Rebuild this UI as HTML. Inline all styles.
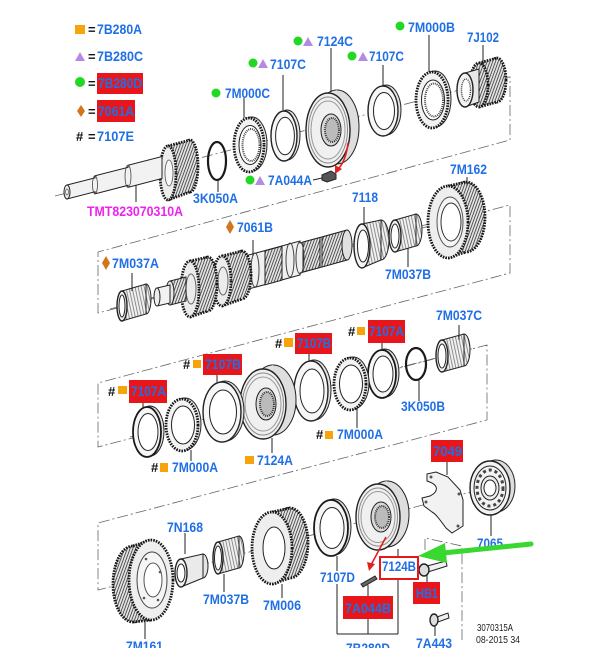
<!DOCTYPE html>
<html><head><meta charset="utf-8"><style>
html,body{margin:0;padding:0;background:#fff;}
svg{display:block}
.t{font-family:"Liberation Sans",Arial,sans-serif;font-weight:bold;font-size:13.5px;fill:#1f6fe6}
.m{fill:#ee22ee}
.k{font-family:"Liberation Sans",Arial,sans-serif;font-weight:bold;font-size:13px;fill:#111}
.s{font-family:"Liberation Sans",Arial,sans-serif;font-size:10px;fill:#222}
.ax{stroke:#666;stroke-width:0.8;fill:none;stroke-dasharray:11 3 2 3}
.ld{stroke:#222;stroke-width:1;fill:none}
.o{stroke:#222;stroke-width:1}
.o2{stroke:#222;stroke-width:1.4}
.th{stroke:#161616;stroke-width:2.8;stroke-dasharray:1.6 1.1}
.rb{fill:#e8161a}
.g{fill:#22d822}
.p{fill:#b48ae6}
.y{fill:#f7a40c}
.d{fill:#d2761e}
</style></head><body>
<svg width="600" height="648" viewBox="0 0 600 648" xmlns="http://www.w3.org/2000/svg">
<defs>
<pattern id="hx" width="2.6" height="6" patternUnits="userSpaceOnUse" patternTransform="rotate(20)"><rect width="2.6" height="6" fill="#e4e4e4"/><rect width="0.9" height="6" fill="#4a4a4a"/></pattern>
<pattern id="nd" width="3" height="6" patternUnits="userSpaceOnUse" patternTransform="rotate(-12)"><rect width="3" height="6" fill="#f0f0f0"/><rect width="0.8" height="6" fill="#777"/></pattern>
</defs>

<!-- frames -->
<polyline class="ax" points="500,78 510,77 510,140 98,252 98,313 510,205 510,273 98,383 98,447 487,345 487,420 98,523 98,590 125,583"/>
<polyline class="ax" points="425,550 425,538 462,546 462,640"/>
<!-- axes -->
<line class="ax" x1="55" y1="196" x2="505" y2="78"/>
<line class="ax" x1="110" y1="309" x2="470" y2="213"/>
<line class="ax" x1="130" y1="437" x2="475" y2="348"/>
<line class="ax" x1="120" y1="587" x2="515" y2="480"/>

<!-- ===== TOP ROW ===== -->
<!-- 7J102 -->
<ellipse cx="497" cy="80" rx="9" ry="22" fill="url(#hx)" class="th"/>
<path d="M479,63 L497,58 L497,102 L479,107 Z" fill="url(#hx)"/>
<path d="M479,63 L497,58 M479,107 L497,102" class="th" fill="none"/>
<ellipse cx="479" cy="85" rx="9" ry="22" fill="url(#hx)" class="th"/>
<path d="M465,73 L479,69 L479,102 L465,107 Z" fill="#e8e8e8" class="o"/>
<ellipse cx="465" cy="90" rx="8" ry="17" fill="#f2f2f2" class="o2"/>
<ellipse cx="466" cy="90" rx="4.5" ry="11" fill="#fff" stroke="#444" stroke-width="1.5" stroke-dasharray="1 1"/>
<!-- 7M000B -->
<ellipse cx="435" cy="99" rx="16" ry="28" fill="#e6e6e6" class="o"/>
<ellipse cx="432" cy="100" rx="16" ry="28" fill="#f3f3f3" class="th"/>
<ellipse cx="433" cy="100" rx="11.5" ry="20" fill="#fff" class="o"/>
<ellipse cx="434" cy="100" rx="9" ry="16.5" fill="#fff" stroke="#444" stroke-width="2" stroke-dasharray="1 1"/>
<!-- 7107C 2 -->
<ellipse cx="386" cy="110" rx="15" ry="25" fill="#e4e4e4" class="o"/>
<ellipse cx="383" cy="111" rx="15" ry="25" fill="#f6f6f6" class="o2"/>
<ellipse cx="384" cy="111" rx="10.5" ry="18.5" fill="#fff" class="o"/>
<!-- 7124C -->
<ellipse cx="337" cy="127" rx="22" ry="37" fill="#dedede" class="o"/>
<path d="M328,93 L337,90 L337,164 L328,167 Z" fill="#e2e2e2"/>
<ellipse cx="328" cy="130" rx="22" ry="37" fill="#f0f0f0" class="o2"/>
<ellipse cx="328" cy="130" rx="19.5" ry="33" fill="none" stroke="#888"/>
<ellipse cx="328" cy="130" rx="17" ry="29" fill="none" stroke="#999"/>
<ellipse cx="331" cy="130" rx="10" ry="16" fill="#d8d8d8" class="o"/>
<ellipse cx="332" cy="130" rx="7" ry="12" fill="#bbb" stroke="#333" stroke-width="2" stroke-dasharray="1 1"/>
<!-- 7107C 1 -->
<ellipse cx="287" cy="135" rx="13" ry="25" fill="#e4e4e4" class="o"/>
<ellipse cx="284" cy="136" rx="13" ry="25" fill="#f6f6f6" class="o2"/>
<ellipse cx="285" cy="136" rx="9.4" ry="18.8" fill="#fff" class="o"/>
<!-- 7M000C -->
<ellipse cx="252" cy="144" rx="15" ry="27" fill="#e6e6e6" class="o"/>
<ellipse cx="249" cy="145" rx="15" ry="27" fill="#f3f3f3" class="th"/>
<ellipse cx="250" cy="145" rx="11" ry="19.5" fill="#fff" class="o"/>
<ellipse cx="251" cy="145" rx="8.5" ry="16" fill="#fff" stroke="#444" stroke-width="2" stroke-dasharray="1 1"/>
<!-- 3K050A -->
<ellipse cx="217" cy="161" rx="9" ry="19" fill="none" stroke="#1a1a1a" stroke-width="2.2"/>
<!-- TMT gear -->
<ellipse cx="190" cy="166" rx="8" ry="26" fill="url(#hx)" class="th"/>
<path d="M168,146 L190,140 L190,192 L168,200 Z" fill="url(#hx)"/>
<path d="M168,146 L190,140 M168,200 L190,192" class="th" fill="none"/>
<ellipse cx="168" cy="173" rx="8" ry="27" fill="#ededed" class="th"/>
<ellipse cx="169" cy="173" rx="4" ry="13" fill="#f8f8f8" stroke="#555" stroke-width="0.8"/>
<!-- TMT shaft -->
<path class="o" fill="#f2f2f2" d="M67,185 L95,177.8 L95,175.8 L128,167.3 L128,165.3 L162,156.5 L162,178.5 L128,187.3 L128,185.3 L95,193.8 L95,191.8 L67,199 Z"/>
<ellipse cx="95" cy="184.8" rx="2.5" ry="9" fill="none" stroke="#444" stroke-width="0.8"/>
<ellipse cx="128" cy="176.3" rx="3" ry="11" fill="none" stroke="#444" stroke-width="0.8"/>
<ellipse cx="67" cy="192" rx="3" ry="7" fill="#eee" stroke="#222"/>
<ellipse cx="67" cy="192" rx="1.3" ry="3" fill="#fff" stroke="#444" stroke-width="0.7"/>
<!-- 7A044A -->
<path d="M322,175 L331,171 L336,174 L336,179 L327,182 L322,180 Z" fill="#555" stroke="#222"/>
<path d="M348,143 Q346,160 339,168" stroke="#e02020" stroke-width="1.6" fill="none"/>
<path d="M335,174 L335,165 L342,169 Z" fill="#e02020"/>

<!-- ===== COUNTERSHAFT ===== -->
<!-- 7M162 -->
<ellipse cx="466" cy="217" rx="19" ry="35" fill="url(#hx)" class="th"/>
<path d="M448,186 L466,182 L466,252 L448,258 Z" fill="url(#hx)"/>
<path d="M448,186 L466,182 M448,258 L466,252" class="th" fill="none"/>
<ellipse cx="448" cy="222" rx="20" ry="36" fill="#eeeeee" class="th"/>
<ellipse cx="450" cy="222" rx="13" ry="25" fill="#f6f6f6" stroke="#555"/>
<ellipse cx="451" cy="222" rx="10" ry="19" fill="#fff" stroke="#333"/>
<!-- 7M037B -->
<ellipse cx="416" cy="230" rx="6" ry="16" fill="url(#nd)" class="o"/>
<path d="M395,220 L416,214 L416,246 L395,252 Z" fill="url(#nd)" class="o"/>
<ellipse cx="395" cy="236" rx="6" ry="16" fill="#f3f3f3" class="o2"/>
<ellipse cx="395" cy="236" rx="4" ry="12" fill="#fff" class="o"/>
<!-- 7118 -->
<ellipse cx="381" cy="240" rx="8" ry="20" fill="url(#nd)" class="o"/>
<path d="M362,224 L381,220 L381,260 L362,268 Z" fill="url(#nd)" class="o"/>
<ellipse cx="362" cy="246" rx="8" ry="22" fill="#f3f3f3" class="o2"/>
<ellipse cx="363" cy="246" rx="5.5" ry="16" fill="#fff" class="o"/>
<!-- 7061B shaft body -->
<path class="o" fill="#f0f0f0" d="M245,256 L300,241 L300,243 L347,230 L347,260 L300,273 L300,275 L245,290 Z"/>
<path d="M322,237 L347,230 L347,260 L322,267 Z" fill="url(#hx)" class="o"/>
<path d="M303,242 L320,237.5 L320,267.5 L303,272 Z" fill="url(#hx)" class="o"/>
<path d="M265,250.8 L282,246.1 L282,280.1 L265,284.8 Z" fill="url(#hx)" class="o"/>
<ellipse cx="347" cy="245" rx="5" ry="15" fill="#e0e0e0" class="o"/>
<ellipse cx="255" cy="270" rx="4" ry="17" fill="none" stroke="#444"/>
<ellipse cx="290" cy="260" rx="4" ry="17" fill="none" stroke="#444"/>
<ellipse cx="300" cy="258" rx="4" ry="16" fill="none" stroke="#444"/>
<!-- gear 2 -->
<ellipse cx="242" cy="275" rx="9" ry="24" fill="url(#hx)" class="th"/>
<path d="M222,256 L242,251 L242,299 L222,306 Z" fill="url(#hx)"/>
<path d="M222,256 L242,251 M222,306 L242,299" class="th" fill="none"/>
<ellipse cx="222" cy="281" rx="9" ry="25" fill="#ececec" class="th"/>
<ellipse cx="223" cy="281" rx="5" ry="14" fill="none" stroke="#666"/>
<!-- gear 1 -->
<ellipse cx="208" cy="284" rx="9" ry="27" fill="url(#hx)" class="th"/>
<path d="M190,261 L208,257 L208,311 L190,317 Z" fill="url(#hx)"/>
<path d="M190,261 L208,257 M190,317 L208,311" class="th" fill="none"/>
<ellipse cx="190" cy="289" rx="9" ry="28" fill="#ececec" class="th"/>
<ellipse cx="191" cy="289" rx="5" ry="15" fill="none" stroke="#666"/>
<!-- splines / tip -->
<path d="M170,281 L186,277 L186,301 L170,305 Z" fill="url(#hx)" class="o"/>
<ellipse cx="170" cy="293" rx="4" ry="12" fill="#e6e6e6" class="o"/>
<path d="M157,288 L170,285 L170,303 L157,306 Z" fill="#f2f2f2" class="o"/>
<ellipse cx="157" cy="297" rx="3" ry="9" fill="#eee" class="o"/>
<!-- 7M037A -->
<ellipse cx="146" cy="299" rx="5" ry="15" fill="url(#nd)" class="o"/>
<path d="M122,291 L146,284 L146,314 L122,321 Z" fill="url(#nd)" class="o"/>
<ellipse cx="122" cy="306" rx="5" ry="15" fill="#eee" class="o2"/>
<ellipse cx="122" cy="306" rx="3" ry="11" fill="#fff" class="o"/>

<!-- ===== SYNC ROW ===== -->
<!-- 7M037C -->
<ellipse cx="464" cy="350" rx="6" ry="16" fill="url(#nd)" class="o"/>
<path d="M442,340 L464,334 L464,366 L442,372 Z" fill="url(#nd)" class="o"/>
<ellipse cx="442" cy="356" rx="6" ry="16" fill="#eee" class="o2"/>
<ellipse cx="442" cy="356" rx="4" ry="12" fill="#fff" class="o"/>
<!-- 3K050B -->
<ellipse cx="416" cy="364" rx="10" ry="16" fill="none" stroke="#1a1a1a" stroke-width="2.2"/>
<!-- 7107A upper -->
<ellipse cx="385" cy="373" rx="14" ry="24" fill="#e4e4e4" class="o"/>
<ellipse cx="382" cy="374" rx="14" ry="24" fill="#f6f6f6" stroke="#1a1a1a" stroke-width="1.8"/>
<ellipse cx="383" cy="374" rx="10" ry="18" fill="#fff" class="o"/>
<!-- 7M000A right -->
<ellipse cx="353" cy="383" rx="16" ry="26" fill="#e6e6e6" class="o"/>
<ellipse cx="350" cy="384" rx="16" ry="26" fill="#f3f3f3" class="th"/>
<ellipse cx="351" cy="384" rx="11.5" ry="19" fill="#fff" class="o"/>
<!-- 7107B upper -->
<ellipse cx="314" cy="390" rx="17" ry="30" fill="#e4e4e4" class="o"/>
<ellipse cx="311" cy="391" rx="17" ry="30" fill="#f6f6f6" class="o2"/>
<ellipse cx="312" cy="391" rx="12" ry="22" fill="#fff" class="o"/>
<!-- 7124A -->
<ellipse cx="273" cy="400" rx="23" ry="35" fill="#dedede" class="o"/>
<path d="M263,369 L273,365 L273,435 L263,439 Z" fill="#e2e2e2"/>
<ellipse cx="263" cy="404" rx="23" ry="35" fill="#f0f0f0" class="o2"/>
<ellipse cx="263" cy="404" rx="20.5" ry="31" fill="none" stroke="#888"/>
<ellipse cx="263" cy="404" rx="18" ry="27" fill="none" stroke="#999"/>
<ellipse cx="266" cy="404" rx="10" ry="16" fill="#d8d8d8" class="o"/>
<ellipse cx="267" cy="404" rx="7" ry="12" fill="#bbb" stroke="#333" stroke-width="2" stroke-dasharray="1 1"/>
<!-- 7107B lower -->
<ellipse cx="225" cy="411" rx="19" ry="30" fill="#e4e4e4" class="o"/>
<ellipse cx="222" cy="412" rx="19" ry="30" fill="#f6f6f6" class="o2"/>
<ellipse cx="223" cy="412" rx="13.5" ry="22" fill="#fff" class="o"/>
<!-- 7M000A lower -->
<ellipse cx="185" cy="424" rx="16" ry="26" fill="#e6e6e6" class="o"/>
<ellipse cx="182" cy="425" rx="16" ry="26" fill="#f3f3f3" class="th"/>
<ellipse cx="183" cy="425" rx="11.5" ry="19" fill="#fff" class="o"/>
<!-- 7107A lower -->
<ellipse cx="150" cy="431" rx="14" ry="25" fill="#e4e4e4" class="o"/>
<ellipse cx="147" cy="432" rx="14" ry="25" fill="#f6f6f6" stroke="#1a1a1a" stroke-width="1.8"/>
<ellipse cx="148" cy="432" rx="10" ry="18.5" fill="#fff" class="o"/>

<!-- ===== BOTTOM ROW ===== -->
<!-- 7065 -->
<ellipse cx="496" cy="486" rx="19" ry="26" fill="#ddd" class="o"/>
<ellipse cx="490" cy="488" rx="20" ry="27" fill="#f3f3f3" class="o2"/>
<ellipse cx="490" cy="488" rx="16" ry="22" fill="none" class="o"/>
<ellipse cx="490" cy="488" rx="13" ry="18" fill="none" stroke="#444" stroke-width="3" stroke-dasharray="3 3"/>
<ellipse cx="490" cy="488" rx="9" ry="12" fill="#eee" class="o"/>
<ellipse cx="490" cy="488" rx="6" ry="8" fill="#fff" class="o"/>
<!-- 7049 -->
<path d="M427,474 L436,472 L448,477 L460,490 L463,500 L463,526 L452,533 L446,528 C440,520 436,514 432,512 L424,506 L422,498 L430,496 C438,492 440,485 427,481 Z" fill="#f2f2f2" class="o"/>
<circle cx="431" cy="477" r="1.5" fill="#555"/><circle cx="459" cy="494" r="1.5" fill="#555"/><circle cx="458" cy="526" r="1.5" fill="#555"/><circle cx="426" cy="502" r="1.5" fill="#555"/>
<!-- 7124B -->
<ellipse cx="387" cy="514" rx="22" ry="33" fill="#dedede" class="o"/>
<path d="M378,484 L387,481 L387,547 L378,550 Z" fill="#e2e2e2"/>
<ellipse cx="378" cy="517" rx="22" ry="33" fill="#f0f0f0" class="o2"/>
<ellipse cx="378" cy="517" rx="19.5" ry="29" fill="none" stroke="#888"/>
<ellipse cx="378" cy="517" rx="17" ry="25.5" fill="none" stroke="#999"/>
<ellipse cx="381" cy="517" rx="10" ry="15" fill="#d8d8d8" class="o"/>
<ellipse cx="382" cy="517" rx="7" ry="11" fill="#bbb" stroke="#333" stroke-width="2" stroke-dasharray="1 1"/>
<!-- 7107D -->
<ellipse cx="334" cy="527" rx="17" ry="28" fill="#e4e4e4" class="o"/>
<ellipse cx="331" cy="528" rx="17" ry="28" fill="#f6f6f6" stroke="#1a1a1a" stroke-width="1.8"/>
<ellipse cx="332" cy="528" rx="12" ry="20.5" fill="#fff" class="o"/>
<!-- 7M006 -->
<ellipse cx="290" cy="543" rx="18" ry="35" fill="url(#hx)" class="th"/>
<path d="M272,512 L290,508 L290,578 L272,584 Z" fill="url(#hx)"/>
<path d="M272,512 L290,508 M272,584 L290,578" class="th" fill="none"/>
<ellipse cx="272" cy="548" rx="20" ry="36" fill="#eeeeee" class="th"/>
<ellipse cx="274" cy="548" rx="11" ry="21" fill="#fff" class="o"/>
<!-- 7M037B bottom -->
<ellipse cx="239" cy="552" rx="5" ry="16" fill="url(#nd)" class="o"/>
<path d="M218,542 L239,536 L239,568 L218,574 Z" fill="url(#nd)" class="o"/>
<ellipse cx="218" cy="558" rx="5" ry="16" fill="#eee" class="o2"/>
<ellipse cx="218" cy="558" rx="3.5" ry="12" fill="#fff" class="o"/>
<!-- 7N168 -->
<ellipse cx="203" cy="566" rx="5" ry="12" fill="#e4e4e4" class="o"/>
<path d="M181,559 L203,554 L203,578 L181,587 Z" fill="#eaeaea" class="o"/>
<ellipse cx="181" cy="573" rx="6" ry="14" fill="#f3f3f3" class="o2"/>
<ellipse cx="181" cy="573" rx="4" ry="9" fill="#fff" class="o"/>
<!-- 7M161 (face toward right) -->
<ellipse cx="133" cy="584" rx="20" ry="38" fill="url(#hx)" class="th"/>
<path d="M133,546 L151,540 L151,620 L133,622 Z" fill="url(#hx)"/>
<path d="M133,546 L151,540 M133,622 L151,620" class="th" fill="none"/>
<ellipse cx="151" cy="580" rx="22" ry="40" fill="#eeeeee" class="th"/>
<ellipse cx="152" cy="580" rx="15" ry="28" fill="#f5f5f5" stroke="#444"/>
<ellipse cx="153" cy="580" rx="9" ry="17" fill="#fff" stroke="#555"/>
<circle cx="146" cy="559" r="1.3" fill="#555"/><circle cx="160" cy="572" r="1.3" fill="#555"/><circle cx="158" cy="600" r="1.3" fill="#555"/><circle cx="144" cy="598" r="1.3" fill="#555"/>
<!-- HB1 bolt -->
<path d="M427,566 L446,561 L447,566 L428,572 Z" fill="#f0f0f0" class="o"/>
<ellipse cx="424" cy="570" rx="5" ry="6" fill="#ddd" class="o2"/>
<!-- 7A443 bolt -->
<path d="M437,617 L448,613 L449,618 L438,622 Z" fill="#f0f0f0" class="o"/>
<ellipse cx="434" cy="620" rx="4" ry="6" fill="#ddd" class="o2"/>
<!-- 7A044B clip -->
<path d="M361,584 L375,576 L377,579 L363,587 Z" fill="#666" class="o"/>
<path d="M386,537 Q378,552 371,565" stroke="#e02020" stroke-width="1.6" fill="none"/>
<path d="M369,571 L367,562 L375,564 Z" fill="#e02020"/>

<!-- ===== LEADERS ===== -->
<path class="ld" d="M136,185V202 M218,180V192 M244,98V118 M283,75V110 M331,48V92 M383,65V86 M429,35V72 M483,45V65 M313,180L322,178
M253,240V256 M132,273V291 M364,207V224 M408,248V267 M467,177V186 M459,325V340
M382,343V350 M309,354V361 M217,375V382 M143,403V408 M357,408V428 M419,380V401 M272,438V453 M191,450V461
M447,462V475 M491,515V536 M185,533V554 M224,574V592 M282,584V598 M145,620V639
M337,556V571 M337,584V634 M337,634H398 M398,579V634 M398,549V556 M368,585V596 M368,619V634 M427,575V582 M435,626V636"/>

<!-- ===== LEGEND ===== -->
<rect x="75" y="25" width="10" height="9" class="y"/>
<text x="88" y="34" class="k">=</text>
<text x="97" y="34" class="t" textLength="45" lengthAdjust="spacingAndGlyphs">7B280A</text>
<path d="M75,61 L85,61 L80,52 Z" class="p"/>
<text x="88" y="61" class="k">=</text>
<text x="97" y="61" class="t" textLength="46" lengthAdjust="spacingAndGlyphs">7B280C</text>
<circle cx="80" cy="82" r="5" class="g"/>
<text x="88" y="88" class="k">=</text>
<rect x="97" y="73" width="46" height="21" class="rb"/>
<text x="98" y="88" class="t" textLength="44" lengthAdjust="spacingAndGlyphs">7B280D</text>
<path d="M81,105 L85,111 L81,117 L77,111 Z" class="d"/>
<text x="88" y="116" class="k">=</text>
<rect x="97" y="100" width="38" height="22" class="rb"/>
<text x="98" y="116" class="t" textLength="36" lengthAdjust="spacingAndGlyphs">7061A</text>
<text x="76" y="141" class="k">#</text>
<text x="88" y="141" class="k">=</text>
<text x="97" y="141" class="t" textLength="37" lengthAdjust="spacingAndGlyphs">7107E</text>

<!-- ===== TOP LABELS ===== -->
<circle cx="216" cy="93" r="4.5" class="g"/>
<text x="225" y="98" class="t" textLength="45" lengthAdjust="spacingAndGlyphs">7M000C</text>
<circle cx="253" cy="63" r="4.5" class="g"/><path d="M258,68 L268,68 L263,59 Z" class="p"/>
<text x="270" y="69" class="t" textLength="36" lengthAdjust="spacingAndGlyphs">7107C</text>
<circle cx="298" cy="41" r="4.5" class="g"/><path d="M303,46 L313,46 L308,37 Z" class="p"/>
<text x="317" y="46" class="t" textLength="36" lengthAdjust="spacingAndGlyphs">7124C</text>
<circle cx="352" cy="56" r="4.5" class="g"/><path d="M358,61 L368,61 L363,52 Z" class="p"/>
<text x="369" y="61" class="t" textLength="35" lengthAdjust="spacingAndGlyphs">7107C</text>
<circle cx="400" cy="26" r="4.5" class="g"/>
<text x="408" y="32" class="t" textLength="47" lengthAdjust="spacingAndGlyphs">7M000B</text>
<text x="467" y="42" class="t" textLength="32" lengthAdjust="spacingAndGlyphs">7J102</text>
<circle cx="250" cy="180" r="4.5" class="g"/><path d="M255,185 L265,185 L260,176 Z" class="p"/>
<text x="268" y="185" class="t" textLength="44" lengthAdjust="spacingAndGlyphs">7A044A</text>
<text x="193" y="203" class="t" textLength="45" lengthAdjust="spacingAndGlyphs">3K050A</text>
<text x="87" y="216" class="t m" textLength="96" lengthAdjust="spacingAndGlyphs">TMT823070310A</text>

<!-- ===== COUNTERSHAFT LABELS ===== -->
<path d="M230,220 L234,227 L230,234 L226,227 Z" class="d"/>
<text x="237" y="232" class="t" textLength="36" lengthAdjust="spacingAndGlyphs">7061B</text>
<path d="M106,256 L110,263 L106,270 L102,263 Z" class="d"/>
<text x="112" y="268" class="t" textLength="47" lengthAdjust="spacingAndGlyphs">7M037A</text>
<text x="352" y="202" class="t" textLength="26" lengthAdjust="spacingAndGlyphs">7118</text>
<text x="385" y="279" class="t" textLength="46" lengthAdjust="spacingAndGlyphs">7M037B</text>
<text x="450" y="174" class="t" textLength="37" lengthAdjust="spacingAndGlyphs">7M162</text>
<text x="436" y="320" class="t" textLength="46" lengthAdjust="spacingAndGlyphs">7M037C</text>

<!-- ===== SYNC LABELS ===== -->
<text x="348" y="336" class="k">#</text><rect x="357" y="327" width="8" height="8" class="y"/>
<rect x="368" y="320" width="37" height="23" class="rb"/>
<text x="369" y="336" class="t" textLength="35" lengthAdjust="spacingAndGlyphs">7107A</text>
<text x="275" y="348" class="k">#</text><rect x="284" y="338" width="9" height="9" class="y"/>
<rect x="295" y="333" width="37" height="21" class="rb"/>
<text x="297" y="348" class="t" textLength="34" lengthAdjust="spacingAndGlyphs">7107B</text>
<text x="183" y="369" class="k">#</text><rect x="193" y="360" width="8" height="8" class="y"/>
<rect x="203" y="354" width="39" height="21" class="rb"/>
<text x="205" y="369" class="t" textLength="36" lengthAdjust="spacingAndGlyphs">7107B</text>
<text x="108" y="396" class="k">#</text><rect x="118" y="386" width="9" height="8" class="y"/>
<rect x="129" y="380" width="38" height="23" class="rb"/>
<text x="131" y="396" class="t" textLength="35" lengthAdjust="spacingAndGlyphs">7107A</text>
<text x="151" y="472" class="k">#</text><rect x="160" y="463" width="8" height="9" class="y"/>
<text x="172" y="472" class="t" textLength="46" lengthAdjust="spacingAndGlyphs">7M000A</text>
<rect x="245" y="456" width="9" height="8" class="y"/>
<text x="257" y="465" class="t" textLength="36" lengthAdjust="spacingAndGlyphs">7124A</text>
<text x="316" y="439" class="k">#</text><rect x="325" y="431" width="8" height="8" class="y"/>
<text x="337" y="439" class="t" textLength="46" lengthAdjust="spacingAndGlyphs">7M000A</text>
<text x="401" y="411" class="t" textLength="44" lengthAdjust="spacingAndGlyphs">3K050B</text>
<rect x="431" y="440" width="32" height="22" class="rb"/>
<text x="433" y="456" class="t" textLength="29" lengthAdjust="spacingAndGlyphs">7049</text>

<!-- ===== BOTTOM LABELS ===== -->
<text x="167" y="532" class="t" textLength="36" lengthAdjust="spacingAndGlyphs">7N168</text>
<text x="203" y="604" class="t" textLength="46" lengthAdjust="spacingAndGlyphs">7M037B</text>
<text x="263" y="610" class="t" textLength="38" lengthAdjust="spacingAndGlyphs">7M006</text>
<text x="126" y="651" class="t" textLength="37" lengthAdjust="spacingAndGlyphs">7M161</text>
<text x="320" y="582" class="t" textLength="35" lengthAdjust="spacingAndGlyphs">7107D</text>
<rect x="380" y="557" width="38" height="22" fill="#fff" stroke="#e8161a" stroke-width="2"/>
<text x="382" y="571" class="t" textLength="34" lengthAdjust="spacingAndGlyphs">7124B</text>
<rect x="413" y="582" width="27" height="22" class="rb"/>
<text x="416" y="598" class="t" textLength="22" lengthAdjust="spacingAndGlyphs">HB1</text>
<rect x="343" y="596" width="50" height="23" class="rb"/>
<text x="345" y="613" class="t" textLength="46" lengthAdjust="spacingAndGlyphs">7A044B</text>
<text x="346" y="653" class="t" textLength="44" lengthAdjust="spacingAndGlyphs">7B280D</text>
<text x="416" y="648" class="t" textLength="36" lengthAdjust="spacingAndGlyphs">7A443</text>
<text x="477" y="548" class="t" textLength="26" lengthAdjust="spacingAndGlyphs">7065</text>
<text x="477" y="631" class="s" textLength="36" lengthAdjust="spacingAndGlyphs">3070315A</text>
<text x="476" y="643" class="s" textLength="44" lengthAdjust="spacingAndGlyphs">08-2015 34</text>

<!-- green arrow -->
<path d="M443,553 L531,544" stroke="#38d830" stroke-width="5" stroke-linecap="round"/>
<path d="M418,556 L445,543 L447,563 Z" fill="#38d830"/>
</svg>
</body></html>
